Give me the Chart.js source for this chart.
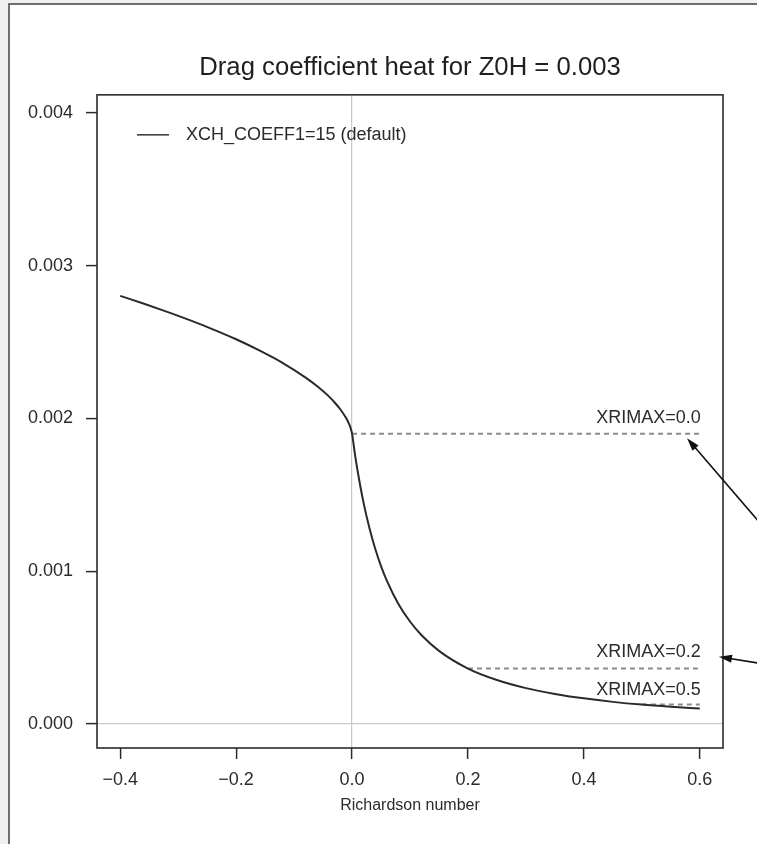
<!DOCTYPE html>
<html>
<head>
<meta charset="utf-8">
<script src="https://cdn.jsdelivr.net/npm/chart.js@4.4.1/dist/chart.umd.min.js"></script>
<style>
  html, body { margin: 0; padding: 0; background: #fff; }
  #wrap { position: relative; width: 757px; height: 844px; }
</style>
</head>
<body>
<div id="wrap"><canvas id="chart" width="757" height="844"></canvas></div>
<script>
// Richardson number vs. heat drag coefficient
const riValues = [-0.40, -0.36, -0.32, -0.28, -0.24, -0.20, -0.16, -0.12, -0.08, -0.06, -0.04, -0.03, -0.02, -0.01, -0.005, -0.002,
  0.0, 0.005, 0.01, 0.02, 0.03, 0.04, 0.05, 0.06, 0.08, 0.10, 0.12, 0.15, 0.20, 0.25, 0.30, 0.35, 0.40, 0.45, 0.50, 0.55, 0.60];
const chValues = [0.002802, 0.002752, 0.002699, 0.002643, 0.002583, 0.002518, 0.002445, 0.002364, 0.002267, 0.002210, 0.002144, 0.002104, 0.002058, 0.002000, 0.001962, 0.001931,
  0.001900, 0.001766, 0.001647, 0.001445, 0.001282, 0.001146, 0.001033, 0.000938, 0.000785, 0.000670, 0.000580, 0.000478, 0.000362, 0.000287, 0.000234, 0.000196, 0.000167, 0.000144, 0.000126, 0.000112, 0.000100];

// XRIMAX cut-off levels (dotted lines)
const xrimaxNames = ['XRIMAX=0.0', 'XRIMAX=0.2', 'XRIMAX=0.5'];
const xrimaxStart = [0.0, 0.2, 0.5];
const xrimaxEnd = 0.6;
const xrimaxCh = [0.00190, 0.000362, 0.000126];

// axes
const xTicks = [-0.4, -0.2, 0.0, 0.2, 0.4, 0.6];
const xTickLabels = ['\u22120.4', '\u22120.2', '0.0', '0.2', '0.4', '0.6'];
const yTicks = [0.000, 0.001, 0.002, 0.003, 0.004];
const yTickLabels = ['0.000', '0.001', '0.002', '0.003', '0.004'];

const FONT = "'Liberation Sans', Arial, Helvetica, sans-serif";
const INK = '#2b2b2b';

// label anchors for the XRIMAX texts (data units) and the arrows pointing at them
const labelAnchors = [
  { x: 0.6, y: 0.00200 },
  { x: 0.6, y: 0.00047 },
  { x: 0.6, y: 0.00022 }
];
const arrows = [
  { from: { x: 0.73, y: 0.00120 }, to: { x: 0.578, y: 0.00187 } },
  { from: { x: 0.73, y: 0.00038 }, to: { x: 0.633, y: 0.00044 } }
];

const curveData = riValues.map((x, i) => ({ x, y: chValues[i] }));
const cutDatasets = xrimaxNames.map((name, i) => ({
  label: name,
  data: [{ x: xrimaxStart[i], y: xrimaxCh[i] }, { x: xrimaxEnd, y: xrimaxCh[i] }],
  borderColor: '#8c8c8c',
  borderWidth: 2,
  borderDash: [5, 4],
  pointRadius: 0,
  fill: false
}));

const framePlugin = {
  id: 'frame',
  beforeDraw(chart) {
    const { ctx, width, height } = chart;
    ctx.save();
    ctx.fillStyle = '#eef0f2';
    ctx.fillRect(0, 0, width, height);
    ctx.fillStyle = '#ffffff';
    ctx.fillRect(10, 5, width - 10, height - 5);
    ctx.strokeStyle = '#6e6e6e';
    ctx.lineWidth = 2;
    ctx.beginPath();
    ctx.moveTo(9, height);
    ctx.lineTo(9, 4);
    ctx.lineTo(width, 4);
    ctx.stroke();
    ctx.restore();
  },
  afterDraw(chart) {
    const { ctx, chartArea: a } = chart;
    const xs = chart.scales.x, ys = chart.scales.y;
    ctx.save();
    // plot box
    ctx.strokeStyle = INK;
    ctx.lineWidth = 1.6;
    ctx.strokeRect(a.left, a.top, a.right - a.left, a.bottom - a.top);

    // legend (top-left inside the box)
    const ly = a.top + 40;
    ctx.strokeStyle = '#333';
    ctx.lineWidth = 1.5;
    ctx.beginPath();
    ctx.moveTo(a.left + 40, ly);
    ctx.lineTo(a.left + 72, ly);
    ctx.stroke();
    ctx.fillStyle = INK;
    ctx.font = '18px ' + FONT;
    ctx.textAlign = 'left';
    ctx.textBaseline = 'middle';
    ctx.fillText(chart.data.datasets[0].label, a.left + 89, ly);

    // XRIMAX labels
    ctx.textAlign = 'right';
    xrimaxNames.forEach((name, i) => {
      ctx.fillText(name, xs.getPixelForValue(labelAnchors[i].x) + 1, ys.getPixelForValue(labelAnchors[i].y));
    });

    // arrows
    ctx.strokeStyle = '#111';
    ctx.fillStyle = '#111';
    ctx.lineWidth = 1.6;
    arrows.forEach(ar => {
      const x1 = xs.getPixelForValue(ar.from.x), y1 = ys.getPixelForValue(ar.from.y);
      const x2 = xs.getPixelForValue(ar.to.x), y2 = ys.getPixelForValue(ar.to.y);
      const ang = Math.atan2(y2 - y1, x2 - x1);
      ctx.beginPath();
      ctx.moveTo(x1, y1);
      ctx.lineTo(x2 - 8 * Math.cos(ang), y2 - 8 * Math.sin(ang));
      ctx.stroke();
      ctx.beginPath();
      ctx.moveTo(x2, y2);
      ctx.lineTo(x2 - 13 * Math.cos(ang) + 4 * Math.sin(ang), y2 - 13 * Math.sin(ang) - 4 * Math.cos(ang));
      ctx.lineTo(x2 - 13 * Math.cos(ang) - 4 * Math.sin(ang), y2 - 13 * Math.sin(ang) + 4 * Math.cos(ang));
      ctx.closePath();
      ctx.fill();
    });
    ctx.restore();
  }
};

const zeroGrid = (ctx) => (ctx.tick && ctx.tick.value === 0 ? '#c9c9c9' : 'rgba(0,0,0,0)');

new Chart(document.getElementById('chart'), {
  type: 'line',
  data: {
    datasets: [
      {
        label: 'XCH_COEFF1=15 (default)',
        data: curveData,
        borderColor: '#2a2a2a',
        borderWidth: 2,
        pointRadius: 0,
        cubicInterpolationMode: 'monotone',
        fill: false
      },
      ...cutDatasets
    ]
  },
  options: {
    responsive: false,
    animation: false,
    layout: { padding: { left: 0, right: 34, top: 0, bottom: 0 } },
    plugins: {
      legend: { display: false },
      tooltip: { enabled: false },
      title: {
        display: true,
        text: 'Drag coefficient heat for Z0H = 0.003',
        fullSize: false,
        color: '#1e1e1e',
        font: { family: FONT, size: 25.7, weight: 'normal' },
        padding: { top: 52, bottom: 12 }
      }
    },
    scales: {
      x: {
        type: 'linear',
        min: -0.44,
        max: 0.64,
        afterFit: (s) => { s.height = 96; },
        afterBuildTicks: (s) => { s.ticks = xTicks.map(v => ({ value: v })); },
        border: { display: false },
        grid: { color: zeroGrid, lineWidth: 1.2, tickColor: INK, tickLength: 11, tickWidth: 1.5 },
        ticks: {
          color: INK,
          font: { family: FONT, size: 18 },
          padding: 10,
          maxRotation: 0,
          callback: (v, i) => xTickLabels[i]
        },
        title: {
          display: true,
          text: 'Richardson number',
          color: INK,
          font: { family: FONT, size: 16 },
          padding: { top: 0, bottom: 29 }
        }
      },
      y: {
        type: 'linear',
        min: -0.000158,
        max: 0.004118,
        afterFit: (s) => { s.width = 97; },
        afterBuildTicks: (s) => { s.ticks = yTicks.map(v => ({ value: v })); },
        border: { display: false },
        grid: { color: zeroGrid, lineWidth: 1.2, tickColor: INK, tickLength: 11, tickWidth: 1.5 },
        ticks: {
          color: INK,
          font: { family: FONT, size: 18 },
          padding: 13,
          callback: (v, i) => yTickLabels[i]
        }
      }
    }
  },
  plugins: [framePlugin]
});
</script>
</body>
</html>
